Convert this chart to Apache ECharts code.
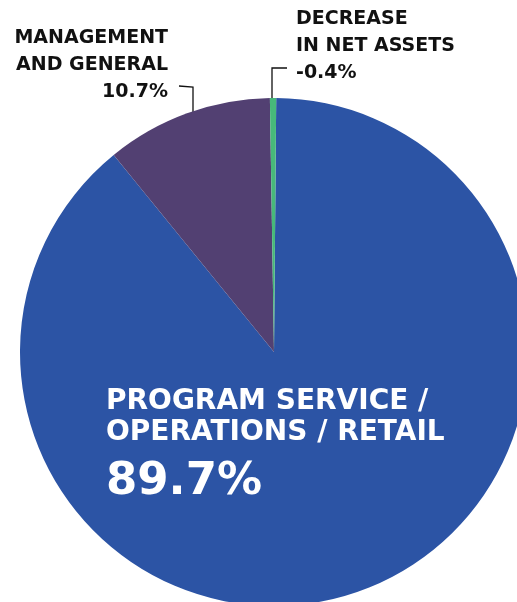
<!DOCTYPE html>
<html>
<head>
<meta charset="utf-8">
<script src="https://cdn.jsdelivr.net/npm/echarts@6/dist/echarts.min.js"></script>
<style>
html,body{margin:0;padding:0;background:#fff;}
#c{width:517px;height:602px;}
</style>
</head>
<body>
<div id="c"></div>
<script>
const categories = ['PROGRAM SERVICE /\nOPERATIONS / RETAIL', 'MANAGEMENT\nAND GENERAL', 'DECREASE\nIN NET ASSETS'];
const values = [89.7, 10.7, 0.4];
const percentLabels = ['89.7%', '10.7%', '-0.4%'];
const colors = ['#2C54A5', '#524072', '#47B97A'];

const FONT = '"DejaVu Sans"';
const chart = echarts.init(document.getElementById('c'), null, {renderer: 'canvas'});

const labelPlaces = [
  {x: 106, y: 386, align: 'left'},
  {x: 168, y: 25, align: 'right'},
  {x: 296, y: 6, align: 'left'}
];
const linePts = [
  null,
  [[179, 86], [193, 87], [193, 133]],
  [[287, 68], [272, 68], [272, 105]]
];

const data = categories.map((c, i) => ({
  name: c,
  value: values[i],
  itemStyle: {color: colors[i]},
  label: i === 0 ? {
    color: '#fff',
    formatter: p => '{n|' + p.name.replace('\n', '}\n{n|') + '}\n{p|' + percentLabels[p.dataIndex] + '}',
    rich: {
      n: {fontFamily: FONT, fontWeight: 'bold', fontSize: 28, lineHeight: 31, color: '#fff'},
      p: {fontFamily: FONT, fontWeight: 'bold', fontSize: 45, lineHeight: 68, color: '#fff'}
    }
  } : {
    color: '#111',
    formatter: p => '{n|' + p.name.replace('\n', '}\n{n|') + '}\n{n|' + percentLabels[p.dataIndex] + '}',
    rich: {
      n: {fontFamily: FONT, fontWeight: 'bold', fontSize: 19, lineHeight: 27, color: '#111', align: labelPlaces[i].align}
    }
  },
  labelLine: {show: i !== 0, lineStyle: {color: '#111', width: 1.3}}
}));

chart.setOption({
  animation: false,
  series: [{
    type: 'pie',
    center: [274, 352],
    radius: [0, 254],
    startAngle: 89.5,
    clockwise: true,
    avoidLabelOverlap: false,
    label: {show: true, position: 'outside'},
    labelLine: {show: true},
    labelLayout: function (params) {
      const i = params.dataIndex;
      const pl = labelPlaces[i];
      const r = {x: pl.x, y: pl.y, align: pl.align, verticalAlign: 'top'};
      if (linePts[i]) r.labelLinePoints = linePts[i];
      return r;
    },
    data: data
  }]
});
</script>
</body>
</html>
